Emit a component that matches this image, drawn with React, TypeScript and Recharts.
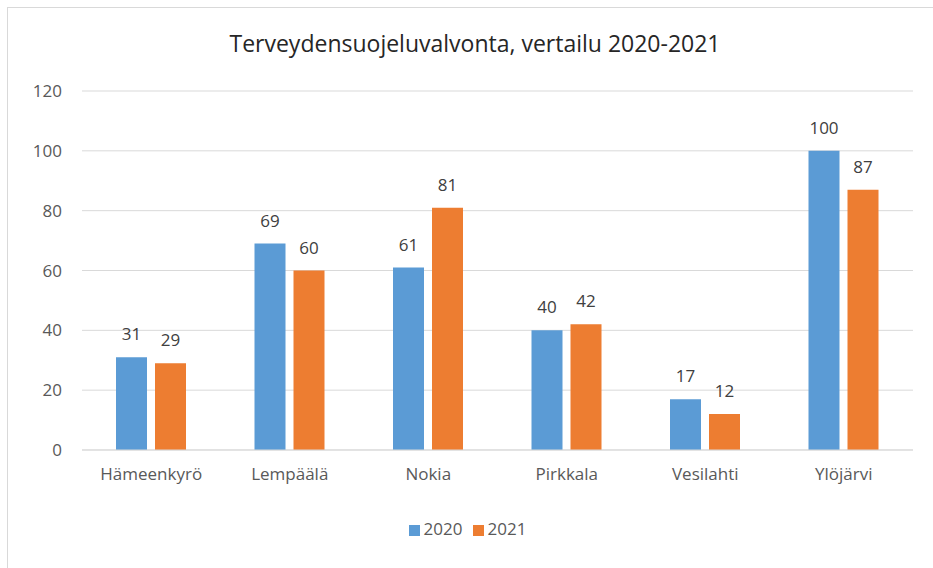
import { BarChart, Bar, XAxis, YAxis, CartesianGrid, Legend, LabelList } from "recharts";

const kunnat = ["Hämeenkyrö", "Lempäälä", "Nokia", "Pirkkala", "Vesilahti", "Ylöjärvi"];
const vuosi2020 = [31, 69, 61, 40, 17, 100];
const vuosi2021 = [29, 60, 81, 42, 12, 87];
const yTicks = [0, 20, 40, 60, 80, 100, 120];

const data = kunnat.map((nimi, i) => ({
  nimi,
  v2020: vuosi2020[i],
  v2021: vuosi2021[i],
}));

const FONT = "'Open Sans', 'Noto Sans', sans-serif";

export default function App() {
  return (
    <div style={{ position: "absolute", left: 0, top: 0, width: 933, height: 568, background: "#fff", fontFamily: FONT }}>
      {/* kehys */}
      <div style={{ position: "absolute", left: 7, top: 7, width: 940, height: 580, border: "1px solid #D9D9D9", boxSizing: "border-box" }} />
      <div style={{ position: "absolute", left: 0, top: 27, width: 950, textAlign: "center", fontSize: 23, color: "#262626" }}>
        Terveydensuojeluvalvonta, vertailu 2020-2021
      </div>
      <BarChart
        width={933}
        height={568}
        data={data}
        margin={{ top: 91, right: 20, left: 32, bottom: 28 }}
        barGap={8}
        style={{ position: "absolute", left: 0, top: 0 }}
      >
        <CartesianGrid vertical={false} stroke="#D9D9D9" />
        <XAxis
          dataKey="nimi"
          height={67}
          tickLine={false}
          axisLine={{ stroke: "#D9D9D9" }}
          tick={{ fill: "#595959", fontSize: 17, fontFamily: FONT }}
          tickMargin={12}
          interval={0}
        />
        <YAxis
          width={50}
          domain={[0, 120]}
          ticks={yTicks}
          axisLine={false}
          tickLine={false}
          tickSize={0}
          tickMargin={20}
          tick={{ fill: "#595959", fontSize: 17, fontFamily: FONT }}
        />
        <Legend
          verticalAlign="bottom"
          align="center"
          iconType="square"
          iconSize={11}
          formatter={(value) => <span style={{ color: "#595959", fontSize: 17 }}>{value}</span>}
        />
        <Bar dataKey="v2020" name="2020" fill="#5B9BD5" barSize={31} isAnimationActive={false}>
          <LabelList dataKey="v2020" position="top" offset={17} fill="#404040" fontSize={17} fontFamily={FONT} />
        </Bar>
        <Bar dataKey="v2021" name="2021" fill="#ED7D31" barSize={31} isAnimationActive={false}>
          <LabelList dataKey="v2021" position="top" offset={17} fill="#404040" fontSize={17} fontFamily={FONT} />
        </Bar>
      </BarChart>
    </div>
  );
}
